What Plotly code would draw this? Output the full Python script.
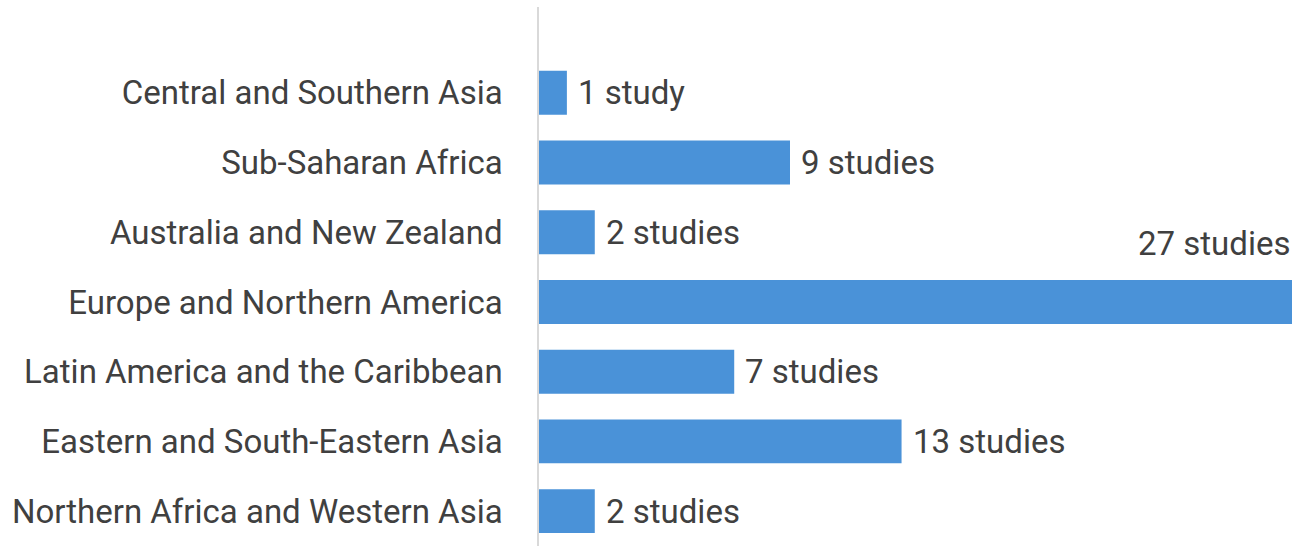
import plotly.graph_objects as go

regions = [
    "Central and Southern Asia",
    "Sub-Saharan Africa",
    "Australia and New Zealand",
    "Europe and Northern America",
    "Latin America and the Caribbean",
    "Eastern and South-Eastern Asia",
    "Northern Africa and Western Asia",
]
studies = [1, 9, 2, 27, 7, 13, 2]
labels = ["1 study", "9 studies", "2 studies", "27 studies", "7 studies", "13 studies", "2 studies"]

BAR_COLOR = "#4A92D8"
TEXT_COLOR = "#404040"
FONT = "Roboto, Arial, sans-serif"
FS = 33

fig = go.Figure(
    go.Bar(
        x=studies,
        y=regions,
        orientation="h",
        marker=dict(color=BAR_COLOR, line=dict(width=0)),
        width=0.63,
        hoverinfo="x+y",
    )
)

xmax = max(studies)
annotations = []
for r, v, lab in zip(regions, studies, labels):
    if v == xmax:
        annotations.append(dict(x=v, y=r, xref="x", yref="y", text=lab, showarrow=False,
                                xanchor="right", yanchor="middle", yshift=58, xshift=0,
                                font=dict(family=FONT, size=FS, color=TEXT_COLOR)))
    else:
        annotations.append(dict(x=v, y=r, xref="x", yref="y", text=lab, showarrow=False,
                                xanchor="left", yanchor="middle", xshift=9,
                                font=dict(family=FONT, size=FS, color=TEXT_COLOR)))

fig.update_layout(
    width=1300,
    height=555,
    margin=dict(l=539, r=8, t=7, b=9),
    paper_bgcolor="white",
    plot_bgcolor="white",
    showlegend=False,
    font=dict(family=FONT, size=FS, color=TEXT_COLOR),
    annotations=annotations,
    xaxis=dict(range=[0, xmax], visible=False, showgrid=False, zeroline=False),
    yaxis=dict(
        categoryorder="array",
        categoryarray=regions,
        range=[6.5, -1.23],
        showline=True,
        linecolor="#D9D9D9",
        linewidth=1.5,
        showgrid=False,
        zeroline=False,
        ticks="",
        ticklabelstandoff=28,
        tickfont=dict(family=FONT, size=FS, color=TEXT_COLOR),
    ),
)

fig.write_html("out.html")
